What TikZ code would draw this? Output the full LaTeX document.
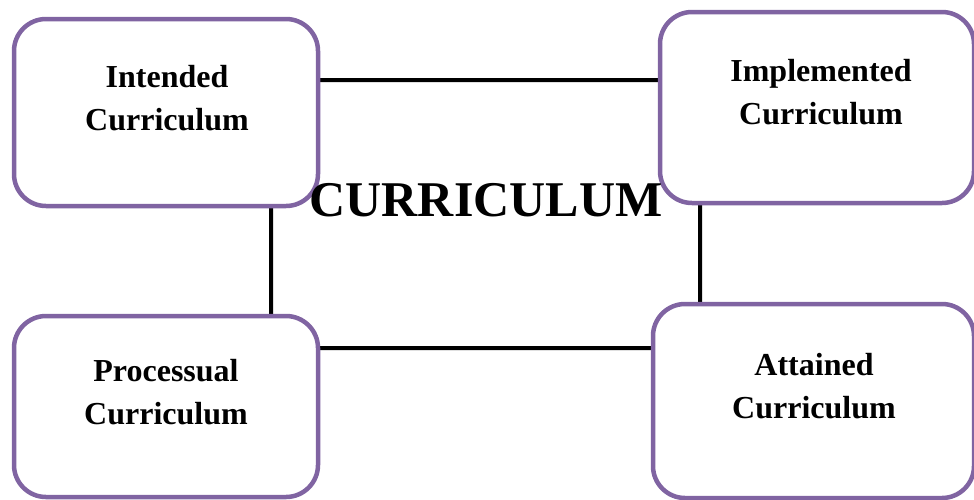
\documentclass[tikz,border=0pt]{standalone}
\usepackage{fontspec}
\setmainfont{Liberation Serif}
\definecolor{boxpurple}{HTML}{8064A2}
\begin{document}
\begin{tikzpicture}[x=1pt,y=-1pt,
  cbox/.style={draw=boxpurple,line width=4.5pt,fill=white,rounded corners=32pt,inner sep=0pt},
  lbl/.style={font=\fontsize{32}{43}\selectfont\bfseries,align=center,anchor=base,inner sep=0pt},
  coreline/.style={draw=black,line width=4pt,rounded corners=6pt,inner sep=0pt}]
\useasboundingbox (0,0) rectangle (974,499);
\node[coreline,minimum width=429pt,minimum height=268pt] (core) at (485.5,214) {};
\node[cbox,minimum width=304pt,minimum height=187pt] (tl) at (166,112.5) {};
\node[cbox,minimum width=314pt,minimum height=191pt] (tr) at (817,107.5) {};
\node[cbox,minimum width=304pt,minimum height=181pt] (bl) at (166,406.5) {};
\node[cbox,minimum width=321pt,minimum height=194pt] (br) at (813.5,401) {};
\node[lbl] (tlt) at (167,130) {Intended\\Curriculum};
\node[lbl] (trt) at (821,124) {Implemented\\Curriculum};
\node[lbl] (blt) at (166,424) {Processual\\Curriculum};
\node[lbl] (brt) at (814,418) {Attained\\Curriculum};
\node[font=\fontsize{50}{60}\selectfont\bfseries,anchor=base,inner sep=0pt] (title) at (486,216) {CURRICULUM};
\end{tikzpicture}
\end{document}
